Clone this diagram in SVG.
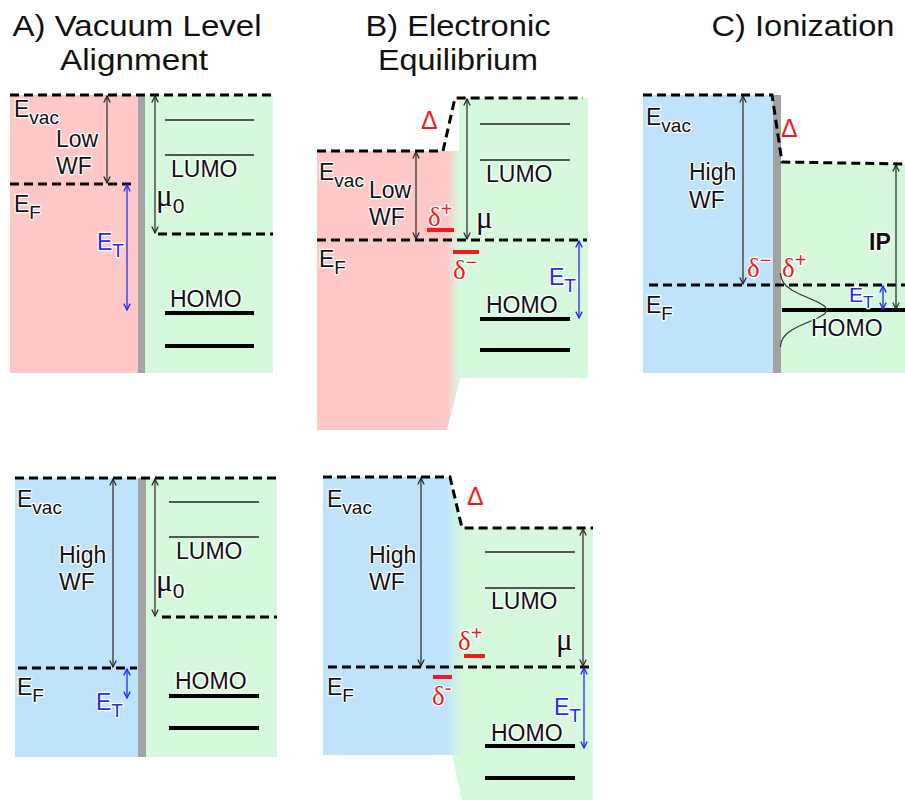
<svg xmlns="http://www.w3.org/2000/svg" width="905" height="803" viewBox="0 0 905 803">
<style>
.title{font-family:"Liberation Sans",Arial,sans-serif;font-size:30px;fill:#111;text-anchor:middle}
.t{font-family:"Liberation Sans",Arial,sans-serif;font-size:23px;fill:#111;paint-order:stroke;stroke:#fff;stroke-width:2.5px;stroke-linejoin:round}
.red{fill:#f01c1c}
.blu{fill:#2828ff}
.gk{font-family:"Liberation Serif","DejaVu Serif",serif}
.b{font-weight:bold}
.dash{stroke:#000;stroke-width:3;stroke-dasharray:9 5;fill:none}
.thin{stroke:#222;stroke-width:1.6}
.thick{stroke:#000;stroke-width:4}
.rbar{stroke:#f01c1c;stroke-width:4}
.arr{stroke:#333;stroke-width:1.3;fill:none;marker-start:url(#ah);marker-end:url(#ah)}
.arrb{stroke:#2828ff;stroke-width:1.3;fill:none;marker-start:url(#ahb);marker-end:url(#ahb)}
.pink{fill:#ffc8c8}
.green{fill:#d6f9dd}
.blue{fill:#bee3fa}
.gray{fill:#a3a3a3}
</style>
<defs>
<marker id="ah" viewBox="0 0 10 10" refX="9" refY="5" markerWidth="8" markerHeight="8" markerUnits="userSpaceOnUse" orient="auto-start-reverse">
<path d="M1,1 L9,5 L1,9" fill="none" stroke="#222" stroke-width="1.5"/>
</marker>
<marker id="ahb" viewBox="0 0 10 10" refX="9" refY="5" markerWidth="8" markerHeight="8" markerUnits="userSpaceOnUse" orient="auto-start-reverse">
<path d="M1,1 L9,5 L1,9" fill="none" stroke="#2828ff" stroke-width="1.7"/>
</marker>
<linearGradient id="gPG" gradientUnits="userSpaceOnUse" x1="446" y1="0" x2="460" y2="0">
<stop offset="0" stop-color="#ffc8c8"/><stop offset="1" stop-color="#d6f9dd"/>
</linearGradient>
<linearGradient id="gBG" gradientUnits="userSpaceOnUse" x1="446" y1="0" x2="462" y2="0">
<stop offset="0" stop-color="#bee3fa"/><stop offset="1" stop-color="#d6f9dd"/>
</linearGradient>
</defs>
<rect width="905" height="803" fill="#fff"/>

<g id="titles">
<text class="title" x="137" y="36" textLength="249" lengthAdjust="spacingAndGlyphs">A) Vacuum Level</text>
<text class="title" x="134" y="70" textLength="148" lengthAdjust="spacingAndGlyphs">Alignment</text>
<text class="title" x="458" y="36" textLength="185" lengthAdjust="spacingAndGlyphs">B) Electronic</text>
<text class="title" x="458" y="70" textLength="160" lengthAdjust="spacingAndGlyphs">Equilibrium</text>
<text class="title" x="803" y="36" textLength="183" lengthAdjust="spacingAndGlyphs">C) Ionization</text>
</g>

<!-- Panel A top -->
<g id="panelA-top">
<rect class="pink" x="10" y="95" width="128" height="278"/>
<rect class="gray" x="138" y="95" width="7" height="278"/>
<rect class="green" x="145" y="95" width="128" height="278"/>
<line class="dash" x1="10" y1="95" x2="273" y2="95"/>
<line class="dash" x1="10" y1="184" x2="132" y2="184"/>
<line class="dash" x1="158" y1="234" x2="273" y2="234"/>
<line class="thin" x1="165" y1="120" x2="254" y2="120"/>
<line class="thin" x1="165" y1="155" x2="254" y2="155"/>
<line class="thick" x1="165" y1="313" x2="254" y2="313"/>
<line class="thick" x1="165" y1="346" x2="254" y2="346"/>
<text class="t" x="14" y="117">E<tspan dy="7" font-size="19">vac</tspan></text>
<text class="t" x="56" y="147">Low</text>
<text class="t" x="56" y="174">WF</text>
<text class="t" x="14" y="212">E<tspan dy="7" font-size="19">F</tspan></text>
<text class="t blu" x="97" y="250">E<tspan dy="7" font-size="19">T</tspan></text>
<text class="t" x="156" y="206"><tspan class="gk" font-size="31">μ</tspan><tspan dy="7" font-size="21">0</tspan></text>
<text class="t" x="171" y="177">LUMO</text>
<text class="t" x="170" y="307">HOMO</text>
</g>

<!-- Panel A bottom -->
<g id="panelA-bottom">
<rect class="blue" x="15" y="478" width="123" height="279"/>
<rect class="gray" x="138" y="478" width="8" height="279"/>
<rect class="green" x="146" y="478" width="131" height="279"/>
<line class="dash" x1="15" y1="478" x2="277" y2="478"/>
<line class="dash" x1="18" y1="668" x2="137" y2="668"/>
<line class="dash" x1="162" y1="617" x2="277" y2="617"/>
<line class="thin" x1="169" y1="502" x2="259" y2="502"/>
<line class="thin" x1="169" y1="537" x2="259" y2="537"/>
<line class="thick" x1="169" y1="696" x2="259" y2="696"/>
<line class="thick" x1="169" y1="728" x2="259" y2="728"/>
<text class="t" x="17" y="507">E<tspan dy="7" font-size="19">vac</tspan></text>
<text class="t" x="59" y="563">High</text>
<text class="t" x="59" y="590">WF</text>
<text class="t" x="17" y="695">E<tspan dy="7" font-size="19">F</tspan></text>
<text class="t blu" x="96" y="710">E<tspan dy="7" font-size="19">T</tspan></text>
<text class="t" x="156" y="591"><tspan class="gk" font-size="31">μ</tspan><tspan dy="7" font-size="21">0</tspan></text>
<text class="t" x="176" y="559">LUMO</text>
<text class="t" x="175" y="689">HOMO</text>
</g>

<!-- Panel B top -->
<g id="panelB-top">
<polygon fill="url(#gPG)" points="317,151 460,151 460,379 447,430 317,430"/>
<rect class="green" x="459" y="98" width="129" height="280"/>
<path class="dash" d="M317,151 L443,151 L455,98 L583,98"/>
<line class="dash" x1="317" y1="240" x2="587" y2="240"/>
<line class="thin" x1="480" y1="124" x2="570" y2="124"/>
<line class="thin" x1="480" y1="160" x2="570" y2="160"/>
<line class="thick" x1="480" y1="319" x2="570" y2="319"/>
<line class="thick" x1="480" y1="350" x2="570" y2="350"/>
<line class="rbar" x1="427" y1="230" x2="454" y2="230"/>
<line class="rbar" x1="453" y1="252" x2="479" y2="252"/>
<text class="t red" x="421" y="129"><tspan font-size="25">Δ</tspan></text>
<text class="t" x="319" y="180">E<tspan dy="7" font-size="19">vac</tspan></text>
<text class="t" x="369" y="198">Low</text>
<text class="t" x="369" y="225">WF</text>
<text class="t red" x="428" y="226"><tspan class="gk" font-size="27">δ</tspan><tspan dy="-10" font-size="20">+</tspan></text>
<text class="t" x="319" y="267">E<tspan dy="7" font-size="19">F</tspan></text>
<text class="t red" x="453" y="279"><tspan class="gk" font-size="27">δ</tspan><tspan dy="-10" font-size="20">−</tspan></text>
<text class="t" x="476" y="228"><tspan class="gk" font-size="31">μ</tspan></text>
<text class="t" x="486" y="182">LUMO</text>
<text class="t blu" x="549" y="285">E<tspan dy="7" font-size="19">T</tspan></text>
<text class="t" x="486" y="313">HOMO</text>
</g>

<!-- Panel B bottom -->
<g id="panelB-bottom">
<polygon fill="url(#gBG)" points="323,477 450,477 462,528 462,755 323,755"/>
<polygon class="green" points="461,528 593,528 593,800 462,800 452,755 461,755"/>
<path class="dash" d="M323,477 L450,477 L462,528 L593,528"/>
<line class="dash" x1="328" y1="667" x2="593" y2="667"/>
<line class="thin" x1="485" y1="552" x2="575" y2="552"/>
<line class="thin" x1="485" y1="588" x2="575" y2="588"/>
<line class="thick" x1="485" y1="746" x2="575" y2="746"/>
<line class="thick" x1="485" y1="778" x2="575" y2="778"/>
<line class="rbar" x1="464" y1="656" x2="485" y2="656"/>
<line class="rbar" x1="433" y1="677" x2="452" y2="677"/>
<text class="t" x="327" y="507">E<tspan dy="7" font-size="19">vac</tspan></text>
<text class="t red" x="467" y="505"><tspan font-size="25">Δ</tspan></text>
<text class="t" x="369" y="563">High</text>
<text class="t" x="369" y="590">WF</text>
<text class="t red" x="458" y="650"><tspan class="gk" font-size="27">δ</tspan><tspan dy="-10" font-size="20">+</tspan></text>
<text class="t" x="327" y="695">E<tspan dy="7" font-size="19">F</tspan></text>
<text class="t red" x="432" y="705"><tspan class="gk" font-size="27">δ</tspan><tspan dy="-10" font-size="20">-</tspan></text>
<text class="t" x="556" y="650"><tspan class="gk" font-size="31">μ</tspan></text>
<text class="t" x="491" y="609">LUMO</text>
<text class="t blu" x="554" y="715">E<tspan dy="7" font-size="19">T</tspan></text>
<text class="t" x="491" y="741">HOMO</text>
</g>

<!-- Panel C -->
<g id="panelC">
<rect class="blue" x="643" y="95" width="130" height="278"/>
<rect class="gray" x="773" y="95" width="8" height="278"/>
<rect class="green" x="781" y="164" width="124" height="209"/>
<path class="dash" d="M643,95 L772,95 L782,162 L905,164"/>
<line class="dash" x1="649" y1="285" x2="905" y2="285"/>
<line class="thick" x1="782" y1="310" x2="905" y2="310"/>
<polyline fill="none" stroke="#333" stroke-width="1.2" points="780.4,273 781.3,278 783.1,282 786.4,286 791.7,290 799.3,294 808.5,298 817.6,302 824.5,306 827,310 824.5,314 817.6,318 808.5,322 799.3,326 791.7,330 786.4,334 783.1,338 781.3,342 780.4,347"/>
<text class="t" x="646" y="125">E<tspan dy="7" font-size="19">vac</tspan></text>
<text class="t red" x="781" y="137"><tspan font-size="25">Δ</tspan></text>
<text class="t" x="689" y="180">High</text>
<text class="t" x="689" y="208">WF</text>
<text class="t red" x="747" y="277"><tspan class="gk" font-size="27">δ</tspan><tspan dy="-10" font-size="20">−</tspan></text>
<text class="t red" x="782" y="277"><tspan class="gk" font-size="27">δ</tspan><tspan dy="-10" font-size="20">+</tspan></text>
<text class="t b" x="869" y="250">IP</text>
<text class="t" x="646" y="313">E<tspan dy="7" font-size="19">F</tspan></text>
<text class="t blu" x="849" y="302"><tspan font-size="21">E</tspan><tspan dy="6" font-size="17">T</tspan></text>
<text class="t" x="811" y="336">HOMO</text>
</g>

<g id="connectors">
<line class="arr" x1="107" y1="96" x2="107" y2="183"/>
<line class="arrb" x1="127" y1="185" x2="127" y2="310"/>
<line class="arr" x1="155" y1="96" x2="155" y2="233"/>
<line class="arr" x1="113" y1="479" x2="113" y2="667"/>
<line class="arrb" x1="127" y1="669" x2="127" y2="698"/>
<line class="arr" x1="155" y1="479" x2="155" y2="616"/>
<line class="arr" x1="416" y1="152" x2="416" y2="239"/>
<line class="arr" x1="467" y1="99" x2="467" y2="239"/>
<line class="arrb" x1="579" y1="241" x2="579" y2="318"/>
<line class="arr" x1="421" y1="478" x2="421" y2="666"/>
<line class="arr" x1="583" y1="529" x2="583" y2="666"/>
<line class="arrb" x1="584" y1="668" x2="584" y2="748"/>
<line class="arr" x1="743" y1="96" x2="743" y2="284"/>
<line class="arr" x1="896" y1="165" x2="896" y2="309"/>
<line class="arrb" x1="883" y1="286" x2="883" y2="309"/>
</g>
</svg>
